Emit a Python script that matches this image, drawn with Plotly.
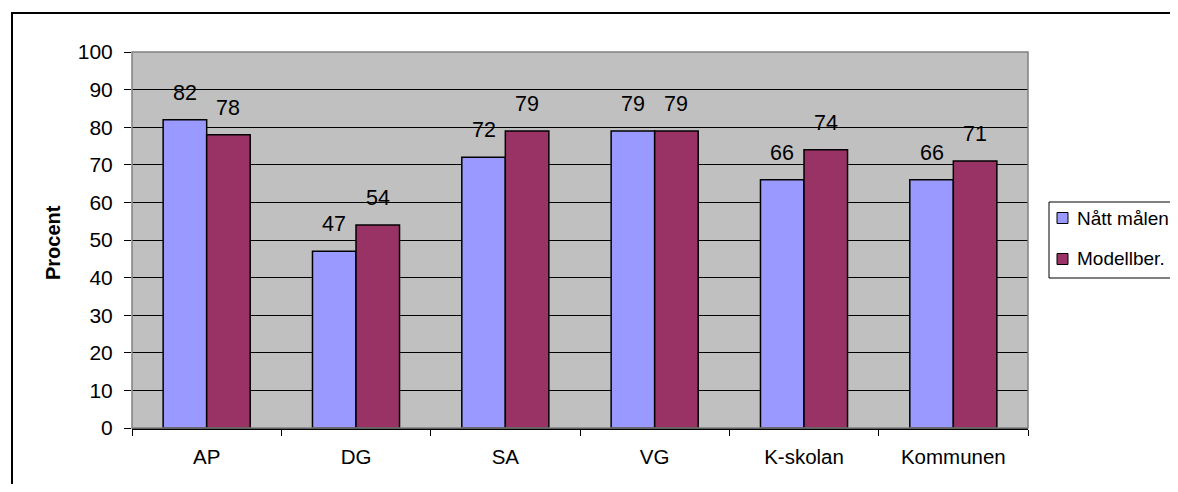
import plotly.graph_objects as go

categories = ["AP", "DG", "SA", "VG", "K-skolan", "Kommunen"]
series_names = ["Nått målen", "Modellber."]
natt_malen = [82, 47, 72, 79, 66, 66]
modellber = [78, 54, 79, 79, 74, 71]
y_ticks = [0, 10, 20, 30, 40, 50, 60, 70, 80, 90, 100]
colors = ["#9999FF", "#993366"]

OFF = 8  # page body margin
W, H = 1178 - 2 * OFF, 492 - 2 * OFF
# plot area in screen pixels
L, R, T, B = 132, 1028, 52, 428
FONT = "Liberation Sans, Arial, sans-serif"


def px(x):
    return (x - L) / (R - L)


def py(y):
    return (B - y) / (B - T)


fig = go.Figure()
for name, vals, col in zip(series_names, [natt_malen, modellber], colors):
    fig.add_trace(go.Bar(
        x=categories, y=vals, name=name,
        marker=dict(color=col, line=dict(color="black", width=1.5)),
        showlegend=False,
    ))

annotations = []
bar_px = (R - L) / len(categories) * (1 - 0.417) / 2
for k, vals in enumerate([natt_malen, modellber]):
    shift = -bar_px / 2 if k == 0 else bar_px / 2
    for c, v in zip(categories, vals):
        annotations.append(dict(
            x=c, y=v, xref="x", yref="y", text=str(v), showarrow=False,
            xshift=shift, yshift=27, yanchor="middle", xanchor="center",
            font=dict(size=21.5, color="black", family=FONT),
        ))

# y-axis title
annotations.append(dict(
    x=px(53), y=py(243), xref="paper", yref="paper", text="<b>Procent</b>",
    textangle=-90, showarrow=False, xanchor="center", yanchor="middle",
    font=dict(size=20, color="black", family=FONT),
))

shapes = [
    # outer frame
    dict(type="rect", xref="paper", yref="paper", x0=px(12), x1=px(1220),
         y0=py(540), y1=py(13), line=dict(color="black", width=2), layer="below"),
    # plot area border
    dict(type="rect", xref="paper", yref="paper", x0=0, x1=1, y0=0, y1=1,
         line=dict(color="#808080", width=1.5), layer="above"),
    # legend box
    dict(type="rect", xref="paper", yref="paper", x0=px(1049), x1=px(1220),
         y0=py(278), y1=py(202), line=dict(color="black", width=1),
         fillcolor="white", layer="above"),
]

legend_rows = [218, 259]
for name, col, cy in zip(series_names, colors, legend_rows):
    shapes.append(dict(type="rect", xref="paper", yref="paper",
                       x0=px(1057), x1=px(1068), y0=py(cy + 5.5), y1=py(cy - 5.5),
                       fillcolor=col, line=dict(color="black", width=1), layer="above"))
    annotations.append(dict(
        x=px(1075), y=py(cy), xref="paper", yref="paper", text=name,
        showarrow=False, xanchor="left", yanchor="middle",
        font=dict(size=19, color="black", family=FONT),
    ))

fig.update_layout(
    width=W, height=H,
    margin=dict(l=L - OFF, r=W + OFF - R, t=T - OFF, b=H + OFF - B, pad=0),
    paper_bgcolor="white", plot_bgcolor="#C0C0C0",
    barmode="group", bargap=0.417, bargroupgap=0,
    font=dict(family=FONT, size=21, color="black"),
    annotations=annotations, shapes=shapes,
    showlegend=False,
)
fig.update_xaxes(
    type="category", showgrid=False, showline=True, linecolor="black", linewidth=1.5,
    ticks="outside", tickson="boundaries", ticklen=6, tickcolor="black", tickwidth=1,
    ticklabelstandoff=10, tickfont=dict(size=20.5), automargin=False,
)
fig.update_yaxes(
    range=[0, 100], tickvals=y_ticks, showgrid=True, gridcolor="black", gridwidth=1,
    showline=False, ticks="outside", ticklen=7, tickcolor="black", tickwidth=1,
    ticklabelstandoff=7, tickfont=dict(size=21), zeroline=False, automargin=False,
)

fig.write_html("out.html")
